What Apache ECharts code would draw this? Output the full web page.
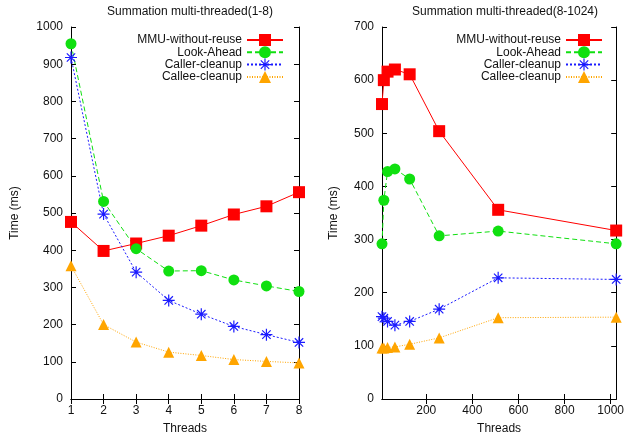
<!DOCTYPE html>
<html>
<head>
<meta charset="utf-8">
<script src="https://cdn.jsdelivr.net/npm/echarts@6/dist/echarts.min.js"></script>
<style>
  html, body { margin: 0; padding: 0; background: #fff; }
  #chart { width: 627px; height: 440px; }
</style>
</head>
<body>
<div id="chart"></div>
<script>
// series names
const seriesNames = ['MMU-without-reuse', 'Look-Ahead', 'Caller-cleanup', 'Callee-cleanup']

// left panel: 1-8 threads
const leftThreads = [1, 2, 3, 4, 5, 6, 7, 8]
const leftMMU = [476, 398, 418, 439, 466, 496, 518, 556]
const leftLook = [955, 531, 404, 344, 345, 320, 304, 289]
const leftCaller = [918, 497, 341, 265, 228, 195, 173, 152]
const leftCallee = [358, 200, 153, 126, 117, 106, 101, 97]

// right panel: 8-1024 threads
const rightThreads = [8, 16, 32, 64, 128, 256, 512, 1024]
const rightMMU = [555, 600, 616, 620, 611, 504, 356, 317]
const rightLook = [292, 374, 428, 433, 414, 307, 316, 292]
const rightCaller = [155, 152, 146, 139, 146, 169, 228, 225]
const rightCallee = [96, 96, 97, 98, 103, 115, 153, 154]
const rightXTicks = [200, 400, 600, 800, 1000]

const font = 'Liberation Sans, Arial, sans-serif'
const txt = '#111'

// asterisk marker (+ and x overlapped)
const asterisk = 'path://M-1,-10L1,-10L1,10L-1,10Z M-10,-1L10,-1L10,1L-10,1Z ' +
  'M-7.7,-6.3L-6.3,-7.7L7.7,6.3L6.3,7.7Z M6.3,-7.7L7.7,-6.3L-6.3,7.7L-7.7,6.3Z'

const styles = [
  { color: '#ff0000', symbol: 'rect', size: 12, dash: 'solid' },
  { color: '#10e010', symbol: 'circle', size: 11, dash: [5, 3] },
  { color: '#1a1aff', symbol: asterisk, size: 12, dash: [2, 2] },
  { color: '#ffa500', symbol: 'triangle', size: 11, dash: [1, 1.5] }
]

function pairs (xs, ys) {
  return xs.map((x, i) => [x, ys[i]])
}

function makeSeries (xs, list, axisIndex) {
  return list.map((ys, i) => ({
    name: seriesNames[i],
    type: 'line',
    xAxisIndex: axisIndex * 2,
    yAxisIndex: axisIndex * 2,
    data: pairs(xs, ys),
    symbol: styles[i].symbol,
    symbolSize: styles[i].size,
    itemStyle: { color: styles[i].color },
    lineStyle: { color: styles[i].color, width: 1, type: styles[i].dash },
    animation: false
  }))
}

const plain = v => String(v)
const lbl = { fontSize: 12, fontFamily: font, color: txt }
const axLine = { show: true, lineStyle: { color: '#000', width: 1 } }
const tickIn = { show: true, inside: true, length: 5, lineStyle: { color: '#000' } }

function xAxes (grid, min, max, interval, ticks) {
  const bottom = {
    type: 'value', gridIndex: grid, position: 'bottom', min: min, max: max,
    name: 'Threads', nameLocation: 'middle', nameGap: 24,
    nameTextStyle: lbl,
    axisLine: axLine, axisTick: Object.assign({}, tickIn),
    axisLabel: Object.assign({ margin: 6, formatter: plain }, lbl),
    splitLine: { show: false }
  }
  const top = {
    type: 'value', gridIndex: grid, position: 'top', min: min, max: max,
    axisLine: axLine, axisTick: Object.assign({}, tickIn),
    axisLabel: { show: false }, splitLine: { show: false }
  }
  if (interval) {
    bottom.interval = interval
    top.interval = interval
  } else {
    bottom.axisTick.customValues = ticks
    bottom.axisLabel.customValues = ticks
    top.axisTick.customValues = ticks
  }
  return [bottom, top]
}

function yAxes (grid, max, nameGap) {
  return [{
    type: 'value', gridIndex: grid, position: 'left', min: 0, max: max, interval: 100,
    name: 'Time (ms)', nameLocation: 'middle', nameGap: nameGap, nameRotate: 90,
    nameTextStyle: lbl,
    axisLine: axLine, axisTick: tickIn,
    axisLabel: Object.assign({ margin: 8, formatter: plain }, lbl),
    splitLine: { show: false }
  }, {
    type: 'value', gridIndex: grid, position: 'right', min: 0, max: max, interval: 100,
    axisLine: axLine, axisTick: tickIn,
    axisLabel: { show: false }, splitLine: { show: false }
  }]
}

function legend (right) {
  return {
    orient: 'vertical', align: 'right', right: right, top: 34, padding: 0,
    itemWidth: 36, itemHeight: 15, itemGap: 0.3, selectedMode: false,
    data: seriesNames,
    textStyle: { fontSize: 12, fontFamily: font, color: txt, lineHeight: 12 }
  }
}

const myChart = echarts.init(document.getElementById('chart'))
myChart.setOption({
  backgroundColor: '#fff',
  animation: false,
  title: [
    { text: 'Summation multi-threaded(1-8)', left: 185, top: 1, textAlign: 'center',
      textStyle: { fontSize: 12, fontWeight: 'normal', fontFamily: font, color: txt } },
    { text: 'Summation multi-threaded(8-1024)', left: 500, top: 1, textAlign: 'center',
      textStyle: { fontSize: 12, fontWeight: 'normal', fontFamily: font, color: txt } }
  ],
  legend: [legend(343), legend(24)],
  grid: [
    { left: 71, right: 328, top: 27, bottom: 41 },
    { left: 382, right: 9, top: 27, bottom: 41 }
  ],
  xAxis: [
    ...xAxes(0, 1, 8, 1),
    ...xAxes(1, 8, 1024, null, rightXTicks)
  ],
  yAxis: [
    ...yAxes(0, 1000, 50),
    ...yAxes(1, 700, 42)
  ],
  series: [
    ...makeSeries(leftThreads, [leftMMU, leftLook, leftCaller, leftCallee], 0),
    ...makeSeries(rightThreads, [rightMMU, rightLook, rightCaller, rightCallee], 1)
  ]
})
</script>
</body>
</html>
